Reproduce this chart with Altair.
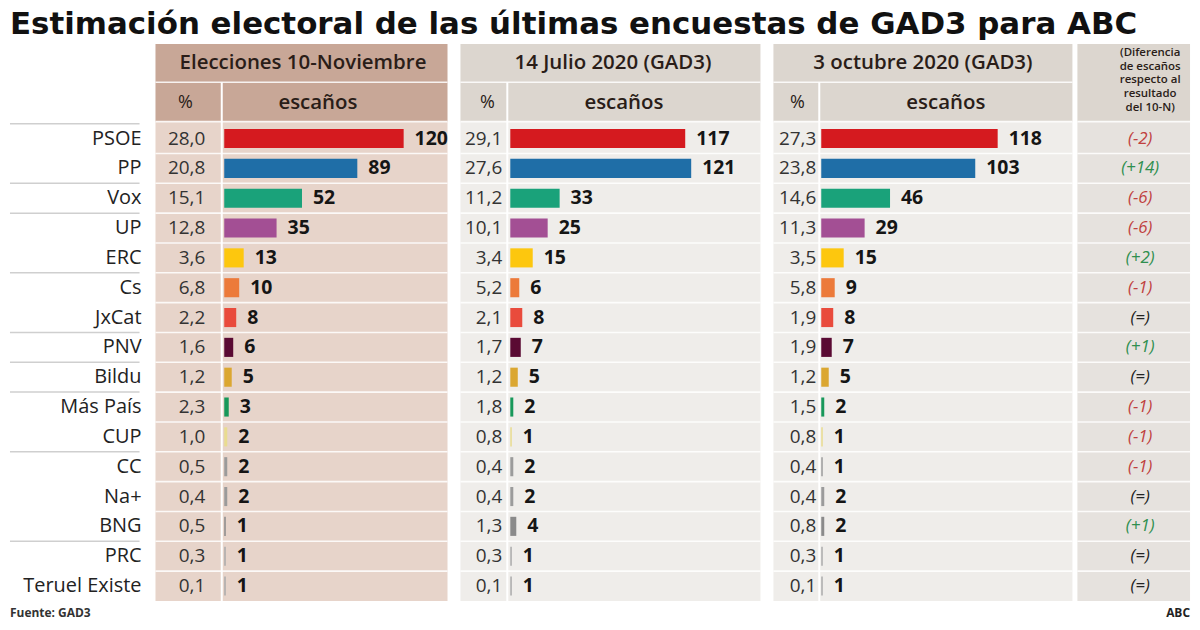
import altair as alt
import pandas as pd

# ---------------- data ----------------
parties = ["PSOE", "PP", "Vox", "UP", "ERC", "Cs", "JxCat", "PNV", "Bildu",
           "Más País", "CUP", "CC", "Na+", "BNG", "PRC", "Teruel Existe"]
pct_nov = [28.0, 20.8, 15.1, 12.8, 3.6, 6.8, 2.2, 1.6, 1.2, 2.3, 1.0, 0.5, 0.4, 0.5, 0.3, 0.1]
seats_nov = [120, 89, 52, 35, 13, 10, 8, 6, 5, 3, 2, 2, 2, 1, 1, 1]
pct_jul = [29.1, 27.6, 11.2, 10.1, 3.4, 5.2, 2.1, 1.7, 1.2, 1.8, 0.8, 0.4, 0.4, 1.3, 0.3, 0.1]
seats_jul = [117, 121, 33, 25, 15, 6, 8, 7, 5, 2, 1, 2, 2, 4, 1, 1]
pct_oct = [27.3, 23.8, 14.6, 11.3, 3.5, 5.8, 1.9, 1.9, 1.2, 1.5, 0.8, 0.4, 0.4, 0.8, 0.3, 0.1]
seats_oct = [118, 103, 46, 29, 15, 9, 8, 7, 5, 2, 1, 1, 2, 2, 1, 1]
diff_labels = ["(-2)", "(+14)", "(-6)", "(-6)", "(+2)", "(-1)", "(=)", "(+1)", "(=)",
               "(-1)", "(-1)", "(-1)", "(=)", "(+1)", "(=)", "(=)"]
title_text = "Estimación electoral de las últimas encuestas de GAD3 para ABC"
panel_titles = ["Elecciones 10-Noviembre", "14 Julio 2020 (GAD3)", "3 octubre 2020 (GAD3)"]
diff_header = "(Diferencia\nde escaños\nrespecto al\nresultado\ndel 10-N)"
source_text = "Fuente: GAD3"
brand_text = "ABC"

# ---------------- styles ----------------
party_colors = ["#d51a1f", "#1f6ea7", "#1aa27a", "#a34f94", "#fdc70e", "#ec7a3a",
                "#e94b3c", "#5a0a33", "#dba731", "#18985a", "#e9dc8f", "#9b9b9b",
                "#9b9b9b", "#8a8a8a", "#aaaaaa", "#aaaaaa"]
FONT = "Open Sans"
ROW_PX = 29.93
BODY_TOP = 122
TOP = 42
BOTTOM = 630
PX_PER_SEAT = 1.5
N = len(parties)


def Y(px):
    return (px - BODY_TOP) / ROW_PX


ys = alt.Scale(domain=[Y(TOP), Y(BOTTOM)], reverse=True, nice=False, zero=False)
H = BOTTOM - TOP


def rect(xs, x, x2, y, y2, color):
    df = pd.DataFrame({"x": [x], "x2": [x2], "y": [y], "y2": [y2]})
    return alt.Chart(df).mark_rect(color=color).encode(
        x=alt.X("x:Q", scale=xs, axis=None), x2="x2:Q",
        y=alt.Y("y:Q", scale=ys, axis=None), y2="y2:Q")


def rules(xs, rows, color="#ffffff", width=2, opacity=1.0):
    df = pd.DataFrame(rows, columns=["x", "x2", "y", "y2"])
    return alt.Chart(df).mark_rule(color=color, strokeWidth=width, opacity=opacity).encode(
        x=alt.X("x:Q", scale=xs, axis=None), x2="x2:Q",
        y=alt.Y("y:Q", scale=ys, axis=None), y2="y2:Q")


def texts(xs, rows, **kw):
    df = pd.DataFrame(rows, columns=["x", "y", "t"])
    return alt.Chart(df).mark_text(baseline="middle", **kw).encode(
        x=alt.X("x:Q", scale=xs, axis=None),
        y=alt.Y("y:Q", scale=ys, axis=None),
        text="t:N")


def fmt(v):
    return f"{v:.1f}".replace(".", ",")


def panel(title, pcts, seats, width, bg_r, div_px, origin, pct_right,
          title_cx, pct_cx, esc_cx, head_color, body_color):
    u = lambda p: (p - origin) / PX_PER_SEAT
    xs = alt.Scale(domain=[u(0), u(width)], nice=False, zero=False)
    bg1 = rect(xs, u(0), u(bg_r), Y(TOP), Y(120), head_color)
    bg2 = rect(xs, u(0), u(bg_r), Y(120), Y(601), body_color)
    lines = rules(xs, [[u(0), u(bg_r), Y(80.5), Y(80.5)],
                       [u(0), u(bg_r), Y(120), Y(120)]] +
                  [[u(0), u(bg_r), i, i] for i in range(1, N)], width=1.6, opacity=0.85)
    vdiv = rules(xs, [[u(div_px), u(div_px), Y(80.5), Y(601)]], width=2)
    df = pd.DataFrame({"party": parties, "row": list(range(N)), "seats": seats,
                       "pct": [fmt(v) for v in pcts]})
    base = alt.Chart(df).transform_calculate(
        y0="datum.row + 0.18", y1="datum.row + 0.82", yc="datum.row + 0.5", x0="0",
        xp=str(u(pct_right)))
    bars = base.mark_rect().encode(
        x=alt.X("x0:Q", scale=xs, axis=None), x2="seats:Q",
        y=alt.Y("y0:Q", scale=ys, axis=None), y2="y1:Q",
        color=alt.Color("party:N", scale=alt.Scale(domain=parties, range=party_colors), legend=None))
    pct = base.mark_text(font=FONT, fontSize=19, color="#333333", align="right",
                         baseline="middle").encode(
        x=alt.X("xp:Q", scale=xs, axis=None), y=alt.Y("yc:Q", scale=ys, axis=None), text="pct:N")
    lab = base.mark_text(font=FONT, fontSize=19.5, fontWeight="bold", color="#151515",
                         align="left", baseline="middle", dx=11).encode(
        x=alt.X("seats:Q", scale=xs, axis=None), y=alt.Y("yc:Q", scale=ys, axis=None),
        text="seats:Q")
    head1 = texts(xs, [[u(title_cx), Y(61), title]], font=FONT, fontSize=20.5, fontWeight=600,
                  color="#2a1d18", align="center")
    head_p = texts(xs, [[u(pct_cx), Y(101), "%"]], font=FONT, fontSize=18, color="#2a1d18",
                   align="center")
    head_e = texts(xs, [[u(esc_cx), Y(101), "escaños"]], font=FONT, fontSize=20.5,
                   fontWeight=600, color="#2a1d18", align="center")
    return alt.layer(bg1, bg2, lines, vdiv, bars, pct, lab, head1, head_p, head_e).properties(
        width=width, height=H)


# label column
xl = alt.Scale(domain=[0, 155], nice=False, zero=False)
lab_df = pd.DataFrame({"party": parties, "row": list(range(N))})
sep_rows = [0, 2, 3, 5, 7, 8, 9, 11, 14]
label_chart = alt.layer(
    rules(xl, [[10, 140, r, r] for r in sep_rows], color="#cfcfcf", width=1.5),
    alt.Chart(lab_df).transform_calculate(yc="datum.row + 0.5", xp="142").mark_text(
        font=FONT, fontSize=20, color="#222222", align="right", baseline="middle").encode(
        x=alt.X("xp:Q", scale=xl, axis=None), y=alt.Y("yc:Q", scale=ys, axis=None),
        text="party:N"),
    texts(xl, [[10, Y(613), source_text]], font=FONT, fontSize=12, fontWeight="bold",
          color="#333333", align="left"),
).properties(width=155, height=H)

p1 = panel(panel_titles[0], pct_nov, seats_nov, 305, 293, 66.5, 69, 50,
           148, 30, 163, "#c8a797", "#e7d4ca")
p2 = panel(panel_titles[1], pct_jul, seats_jul, 313, 301, 47, 50, 42,
           153, 27, 164, "#dcd6cf", "#efedea")
p3 = panel(panel_titles[2], pct_oct, seats_oct, 304, 300, 46, 48, 43,
           150, 24, 173, "#dcd6cf", "#efedea")

# difference column
xd = alt.Scale(domain=[0, 123], nice=False, zero=False)
kind = ["neg" if s.startswith("(-") else ("pos" if s.startswith("(+") else "eq") for s in diff_labels]
diff_df = pd.DataFrame({"row": list(range(N)), "d": diff_labels, "k": kind})
diff_chart = alt.layer(
    rect(xd, 0, 113, Y(TOP), Y(120), "#dcd6cf"),
    rect(xd, 0, 113, Y(120), Y(601), "#e6e2de"),
    rules(xd, [[0, 113, Y(120), Y(120)]] + [[0, 113, i, i] for i in range(1, N)],
          width=1.6, opacity=0.85),
    alt.Chart(pd.DataFrame({"x": [73], "y": [Y(51)], "t": [diff_header]})).mark_text(
        font=FONT, fontSize=11.5, fontWeight=600, color="#2a1d18", align="center",
        baseline="middle", lineBreak="\n", lineHeight=13.8).encode(
        x=alt.X("x:Q", scale=xd, axis=None), y=alt.Y("y:Q", scale=ys, axis=None), text="t:N"),
    alt.Chart(diff_df).transform_calculate(yc="datum.row + 0.5", xp="63").mark_text(
        font=FONT, fontSize=17, fontStyle="italic", align="center", baseline="middle").encode(
        x=alt.X("xp:Q", scale=xd, axis=None), y=alt.Y("yc:Q", scale=ys, axis=None),
        text="d:N",
        color=alt.Color("k:N", scale=alt.Scale(domain=["neg", "pos", "eq"],
                                               range=["#c0413f", "#2f8f4f", "#222222"]),
                        legend=None)),
    texts(xd, [[113, Y(613), brand_text]], font=FONT, fontSize=12, fontWeight="bold",
          color="#222222", align="right"),
).properties(width=123, height=H)

chart = alt.hconcat(label_chart, p1, p2, p3, diff_chart, spacing=0).resolve_scale(
    color="independent"
).properties(
    title=alt.TitleParams(title_text, anchor="start", font="DejaVu Sans", fontSize=31,
                          fontWeight="bold", color="#111111", dx=10, offset=3),
    padding={"left": 0, "right": 0, "top": 8, "bottom": 0},
    background="#ffffff",
).configure_view(stroke=None).configure_concat(spacing=0)

chart.save("out.html", embed_options={"renderer": "svg", "actions": False})
